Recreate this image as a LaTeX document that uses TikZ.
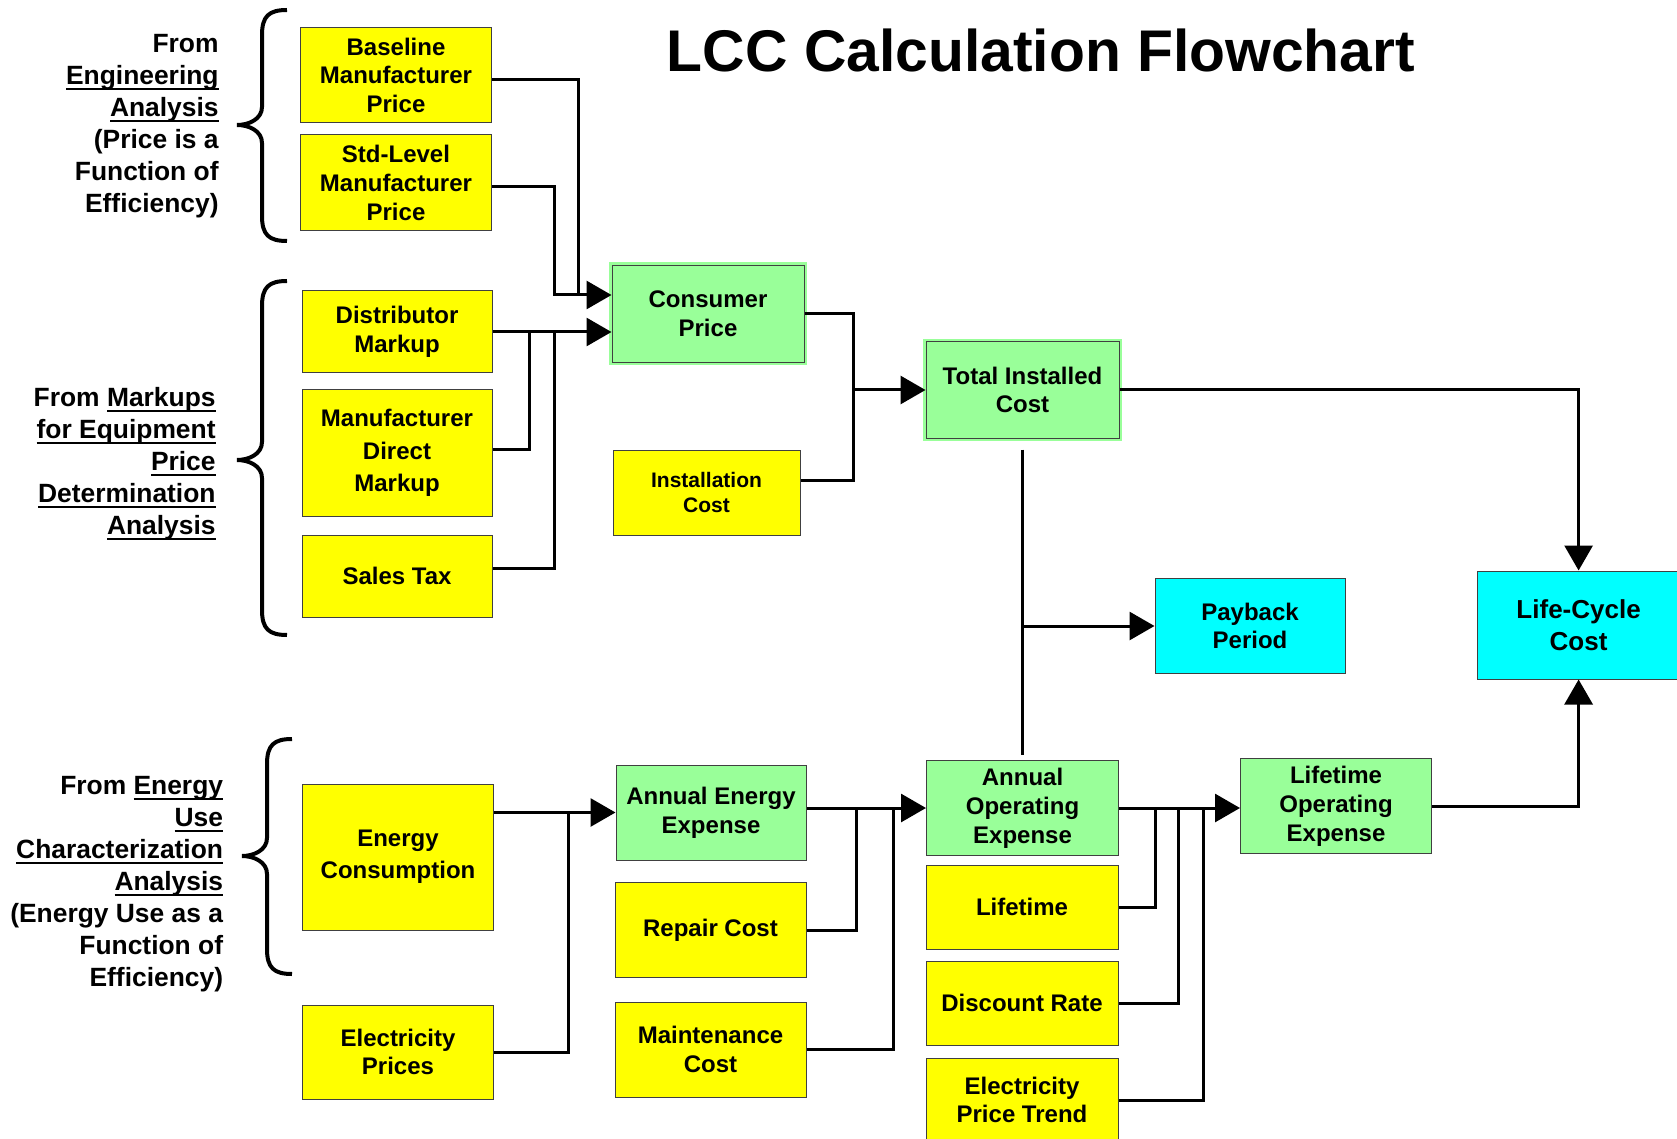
\documentclass[tikz,border=0pt]{standalone}
\usepackage{fontspec}
\setmainfont{Liberation Sans}
\usepackage{amsmath}
\usetikzlibrary{arrows.meta,calc}
\definecolor{lcc_yellow}{RGB}{255,255,0}
\definecolor{lcc_green}{RGB}{153,255,153}
\definecolor{lcc_cyan}{RGB}{0,255,255}
\newcommand{\boxtxt}{\fontsize{12}{14.4}\selectfont\bfseries}
\newcommand{\boxtxtloose}{\fontsize{12}{16.2}\selectfont\bfseries}
\newcommand{\boxtxtsmall}{\fontsize{10.5}{12.8}\selectfont\bfseries}
\newcommand{\lcctxt}{\fontsize{13}{16}\selectfont\bfseries}
\newcommand{\sidetxt}{\fontsize{13.2}{16}\selectfont\bfseries}
\newcommand{\headtxt}{\fontsize{29.4}{35}\selectfont\bfseries}
\newcommand{\undl}[1]{\leavevmode\vtop{\hbox{\smash[b]{#1}}\kern1.6pt\hrule height 1pt}}
% #1 end x, #2 top y, #3 tip y, #4 bottom y
\newcommand{\sidebrace}[4]{\draw[line width=2pt] (#1,#2)
  .. controls (#1-18,#2) and (#1-25,#2+6) .. (#1-25,#2+25) -- (#1-25,#3-18)
  .. controls (#1-25,#3-6) and (#1-38,#3) .. (#1-50,#3)
  .. controls (#1-38,#3) and (#1-25,#3+6) .. (#1-25,#3+18) -- (#1-25,#4-25)
  .. controls (#1-25,#4-6) and (#1-18,#4) .. (#1,#4);}
\tikzstyle{box}=[rectangle,draw=black!75,line width=0.5pt,align=center,
  font=\boxtxt,inner sep=2pt]
\tikzstyle{yb}=[box,fill=lcc_yellow]
\tikzstyle{gb}=[box,fill=lcc_green]
\tikzstyle{cb}=[box,fill=lcc_cyan]
\tikzstyle{glow}=[preaction={draw=lcc_green,line width=3pt}]
\tikzstyle{side}=[anchor=east,align=right,font=\sidetxt,inner sep=0pt]
\tikzstyle{link}=[line width=1.5pt]
\tikzstyle{arr}=[link,-{Triangle[length=12.5pt,width=14pt]}]
\tikzset{wh/.style 2 args={minimum width=#1*0.5pt,minimum height=#2*0.5pt}}

\begin{document}
\begin{tikzpicture}[x=0.5pt, y=-0.5pt]
    \useasboundingbox (0,0) rectangle (1677,1139);
    \node[font=\headtxt] (title) at (1041,50) {LCC Calculation Flowchart};

    \node[side] (engl) at (219,126) {From\\ \undl{Engineering}\\ \undl{Analysis}\\ (Price is a\\ Function of\\ Efficiency)};
    \node[side] (mkpl) at (216,464) {From \undl{Markups}\\ \undl{for Equipment}\\ \undl{Price}\\ \undl{Determination}\\ \undl{Analysis}};
    \node[side] (enrl) at (223.5,884) {From \undl{Energy}\\ \undl{Use}\\ \undl{Characterization}\\ \undl{Analysis}\\ (Energy Use as a\\ Function of\\ Efficiency)};
    \sidebrace{287}{10}{125}{241}
    \sidebrace{287}{281}{460}{635}
    \sidebrace{292}{739}{856}{974}

    \node[yb, wh={191}{95}] (bmp) at (396,75.4) {Baseline\\Manufacturer\\Price};
    \node[yb, wh={191}{96}] (smp) at (396,183) {Std-Level\\Manufacturer\\Price};
    \node[yb, wh={190}{82}] (dm) at (397,332) {Distributor\\Markup};
    \node[yb, wh={190}{126}, font=\boxtxtloose] (mdm) at (397,453) {Manufacturer\\Direct\\Markup};
    \node[yb, wh={190}{82}] (st) at (397,576) {Sales Tax};
    \node[gb, glow, wh={192}{97}] (cp) at (708,314) {Consumer\\Price};
    \node[yb, wh={187}{85}, font=\boxtxtsmall] (ic) at (706.5,492.5) {Installation\\Cost};
    \node[gb, glow, wh={193}{96}] (tic) at (1022.5,390) {Total Installed\\Cost};
    \node[cb, wh={190}{95}] (pp) at (1250,626) {Payback\\Period};
    \node[cb, wh={203}{108}, font=\lcctxt] (lcc) at (1578.6,625) {Life-Cycle\\Cost};
    \node[yb, wh={191}{146}, font=\boxtxtloose] (ec) at (398,857) {Energy\\Consumption};
    \node[yb, wh={191}{94}] (ep) at (398,1052) {Electricity\\Prices};
    \node[gb, wh={190}{95}] (aee) at (711,812.5) {Annual Energy\\Expense};
    \node[yb, wh={191}{95}] (rc) at (710.5,930) {Repair Cost};
    \node[yb, wh={191}{95}] (mc) at (710.5,1049.5) {Maintenance\\Cost};
    \node[gb, wh={192}{95}] (aoe) at (1022.5,808) {Annual\\Operating\\Expense};
    \node[yb, wh={192}{84}] (lt) at (1022,907) {Lifetime};
    \node[yb, wh={192}{84}] (dr) at (1022,1003) {Discount Rate};
    \node[yb, wh={192}{84}] (ept) at (1022,1100) {Electricity\\Price Trend};
    \node[gb, wh={191}{95}] (loe) at (1336,806) {Lifetime\\Operating\\Expense};

    % price inputs
    \coordinate (j1) at (578.6,295);
    \coordinate (j2) at (554,295);
    \coordinate (j3) at (529.5,332);
    \coordinate (j4) at (554,332);
    \draw[link] ([yshift=-2pt]bmp.east) -| (j1);
    \draw[arr] ([yshift=-2pt]smp.east) -| (j2) -- (j2 -| cp.west);
    \draw[arr] (dm.east) -- (dm.east -| cp.west);
    \draw[link] ([yshift=2pt]mdm.east) -| (j3);
    \draw[link] ([yshift=3.75pt]st.east) -| (j4);

    % installed cost
    \coordinate (j5) at (853.5,390);
    \draw[link] (cp.east) -| (j5) |- ([yshift=6pt]ic.east);
    \draw[arr] (j5) -- (j5 -| tic.west);
    \draw[arr] (tic.east) -| (lcc.north);
    \draw[link] ([yshift=-5.5pt]tic.south) -- ([yshift=2.5pt]aoe.north);
    \draw[arr] (tic.south |- pp.west) -- (pp.west);

    % operating cost
    \coordinate (j7) at (568,812.5);
    \coordinate (j8) at (856.7,808);
    \coordinate (j9) at (893,808);
    \draw[arr] (ec.east |- aee.west) -- (aee.west);
    \draw[link] (ep.east) -| (j7);
    \draw[arr] (aee.east |- aoe.west) -- (aoe.west);
    \draw[link] (rc.east) -| (j8);
    \draw[link] (mc.east) -| (j9);

    \coordinate (j10) at (1155,808);
    \coordinate (j11) at (1178.6,808);
    \coordinate (j12) at (1203,808);
    \draw[arr] (aoe.east) -- (aoe.east -| loe.west);
    \draw[link] (lt.east) -| (j10);
    \draw[link] (dr.east) -| (j11);
    \draw[link] (ept.east) -| (j12);
    \draw[arr] (loe.east) -| (lcc.south);
\end{tikzpicture}
\end{document}
